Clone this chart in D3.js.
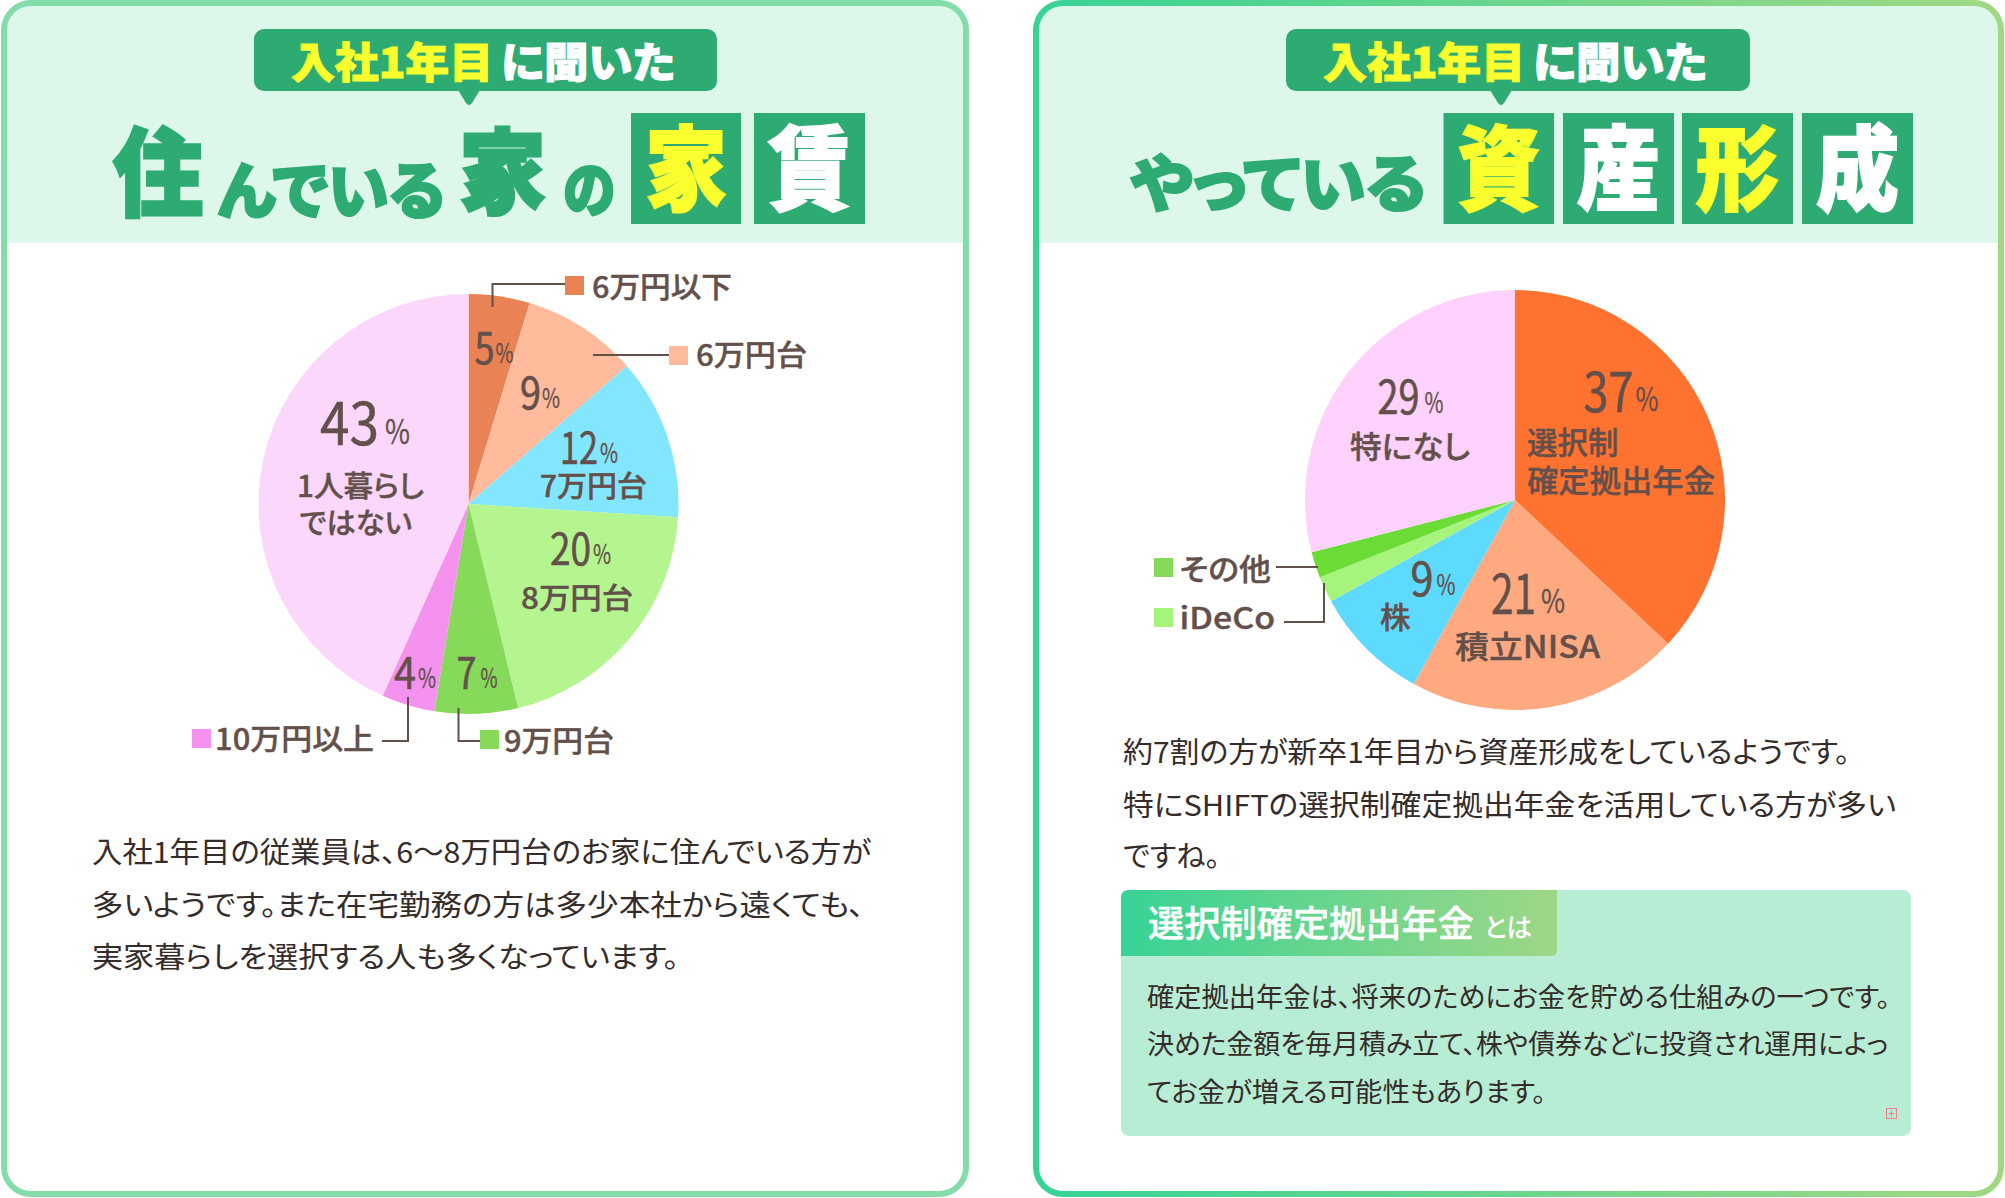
<!DOCTYPE html>
<html lang="ja">
<head>
<meta charset="utf-8">
<script src="https://cdn.jsdelivr.net/npm/d3@7"></script>
<style>
  html, body { margin: 0; background: #fff; }
  svg { display: block; }
  text { font-family: "Noto Sans CJK JP", "Noto Sans", sans-serif; font-feature-settings: "palt"; }
</style>
</head>
<body>
<svg id="chart" width="2005" height="1198"></svg>
<script>
// rent pie: printed percents, and the slice shares
const rentCategories = ['6万円以下', '6万円台', '7万円台', '8万円台', '9万円台', '10万円以上', '1人暮らしではない'];
const rentPercents = [5, 9, 12, 20, 7, 4, 43];
const rentShares = [4.7, 8.9, 12.4, 20.2, 6.4, 4.1, 43.3];
const rentColors = ['#e98355', '#ffbb9c', '#82e6ff', '#b5f590', '#87d95a', '#f592ef', '#fcd7fc'];

// asset pie
const assetCategories = ['選択制確定拠出年金', '積立NISA', '株', 'iDeCo', 'その他', '特になし'];
const assetValues = [37, 21, 9, 2, 2, 29];
const assetColors = ['#ff7230', '#ffa981', '#5fdaff', '#a6f47c', '#6bdc35', '#fed2fc'];

const bodyLeft = [
  '入社1年目の従業員は、6〜8万円台のお家に住んでいる方が',
  '多いようです。また在宅勤務の方は多少本社から遠くても、',
  '実家暮らしを選択する人も多くなっています。'
];
const bodyRight = [
  '約7割の方が新卒1年目から資産形成をしているようです。',
  '特にSHIFTの選択制確定拠出年金を活用している方が多い',
  'ですね。'
];
const noteLines = [
  '確定拠出年金は、将来のためにお金を貯める仕組みの一つです。',
  '決めた金額を毎月積み立て、株や債券などに投資され運用によっ',
  'てお金が増える可能性もあります。'
];

const GREEN = '#2dab73';
const YELLOW = '#fbff2e';
const BROWN = '#63504a';
const INK = '#352c2a';
const HEADER_BG = '#ddf7ea';

const svg = d3.select('#chart');
const defs = svg.append('defs');

const borderGrad = defs.append('linearGradient')
  .attr('id', 'borderGrad').attr('gradientUnits', 'userSpaceOnUse')
  .attr('x1', 1036).attr('x2', 2001).attr('y1', 0).attr('y2', 0);
borderGrad.append('stop').attr('offset', 0).attr('stop-color', '#37d395');
borderGrad.append('stop').attr('offset', 1).attr('stop-color', '#a0d884');

const tabGrad = defs.append('linearGradient')
  .attr('id', 'tabGrad').attr('gradientUnits', 'userSpaceOnUse')
  .attr('x1', 1121).attr('x2', 1557).attr('y1', 0).attr('y2', 0);
tabGrad.append('stop').attr('offset', 0).attr('stop-color', '#37d395');
tabGrad.append('stop').attr('offset', 1).attr('stop-color', '#9ed786');

// squeezes each string into the width
function label(x0, x1, base, size, str, fill = BROWN, weight = 500, outline = 0.4) {
  const t = svg.append('text')
    .attr('x', x0).attr('y', base)
    .attr('font-size', size).attr('font-weight', weight)
    .attr('fill', fill)
    .attr('textLength', x1 - x0).attr('lengthAdjust', 'spacingAndGlyphs')
    .text(str);
  if (outline) t.attr('stroke', fill).attr('stroke-width', outline).attr('stroke-linejoin', 'miter');
  return t;
}

function panel(id, x, w, stroke) {
  const y = 3, h = 1191, r = 27;
  defs.append('clipPath').attr('id', id)
    .append('rect').attr('x', x).attr('y', y).attr('width', w).attr('height', h).attr('rx', r);
  svg.append('rect').attr('x', x).attr('y', y).attr('width', w).attr('height', h).attr('rx', r).attr('fill', '#fff');
  svg.append('rect').attr('x', x).attr('y', y).attr('width', w).attr('height', 240)
    .attr('fill', HEADER_BG).attr('clip-path', `url(#${id})`);
  svg.append('rect').attr('x', x).attr('y', y).attr('width', w).attr('height', h).attr('rx', r)
    .attr('fill', 'none').attr('stroke', stroke).attr('stroke-width', 6);
}

function callout(x0, x1, tip, textX) {
  svg.append('rect').attr('x', x0).attr('y', 29).attr('width', x1 - x0).attr('height', 62).attr('rx', 10).attr('fill', GREEN);
  const p = d3.path();
  p.moveTo(tip - 11, 90);
  p.lineTo(tip - 3, 103);
  p.quadraticCurveTo(tip, 107, tip + 3, 103);
  p.lineTo(tip + 11, 90);
  p.closePath();
  svg.append('path').attr('d', p.toString()).attr('fill', GREEN);
  label(textX, textX + 202, 78, 42, '入社1年目', YELLOW, 900, 1);
  label(textX + 210, textX + 384, 78, 42, 'に聞いた', '#fff', 900, 1);
}

function titleBox(x0, x1, ch, fill) {
  svg.append('rect').attr('x', x0).attr('y', 113).attr('width', x1 - x0).attr('height', 111).attr('fill', GREEN);
  label(x0 + 14, x1 - 14, 203, 92, ch, fill, 900, 2);
}

function pie(cx, cy, values, colors) {
  const arc = d3.arc().innerRadius(0).outerRadius(210);
  const slices = d3.pie().sort(null)(values);
  svg.append('g').attr('transform', `translate(${cx},${cy})`)
    .selectAll('path').data(slices).join('path')
    .attr('d', arc)
    .attr('fill', (d, i) => colors[i]);
}

function leader(points) {
  svg.append('path').attr('d', d3.line()(points))
    .attr('fill', 'none').attr('stroke', BROWN).attr('stroke-width', 2);
}

function swatch(x, y, color) {
  svg.append('rect').attr('x', x).attr('y', y).attr('width', 19).attr('height', 19).attr('fill', color);
}

// number and small percent sign are set separately, as in the picture
function pct(value, x0, x1, px0, px1, base, size, pSize) {
  label(x0, x1, base + 2, size, String(value), BROWN, 400, 0.6);
  label(px0, px1, base + 1, pSize + 2, '%', BROWN, 400, 0.3);
}

// ---- left panel ----
panel('clipL', 4, 962, '#85dcab');
callout(254, 717, 469, 291);
label(113, 203, 208, 96, '住', GREEN, 900, 3);
label(218, 445, 214, 62, 'んでいる', GREEN, 900, 2);
label(459, 546, 206, 92, '家', GREEN, 900, 3);
label(563, 615, 212, 60, 'の', GREEN, 900, 2);
titleBox(631, 741, '家', YELLOW);
titleBox(754, 865, '賃', '#fff');

pie(468.5, 504, rentShares, rentColors);

leader([[492.5, 307], [492.5, 284], [565, 284]]);
leader([[593, 355], [669, 355]]);
leader([[382, 741], [408, 741], [408, 697]]);
leader([[458.5, 708], [458.5, 741], [480, 741]]);

swatch(565, 276, rentColors[0]);
label(592, 732, 298, 29, rentCategories[0]);
swatch(669, 346, rentColors[1]);
label(696, 807, 366, 29, rentCategories[1]);
swatch(192, 729, rentColors[5]);
label(215, 374, 750, 29, rentCategories[5]);
swatch(480, 730, rentColors[4]);
label(504, 614, 752, 29, rentCategories[4]);

pct(rentPercents[0], 474.5, 494.5, 495.5, 513.5, 362, 44, 25);
pct(rentPercents[1], 520, 541, 542, 560, 407, 44, 25);
pct(rentPercents[2], 560, 598, 600, 618, 462, 44, 25);
label(540, 647, 497, 29, rentCategories[2]);
pct(rentPercents[3], 550, 591, 593, 611, 563, 44, 25);
label(521, 633, 609, 29, rentCategories[3]);
pct(rentPercents[4], 456.5, 476.5, 480.5, 497.5, 687, 44, 25);
pct(rentPercents[5], 394, 416, 418, 436, 687, 44, 25);
pct(rentPercents[6], 320, 379, 385, 410, 443, 58, 32);
label(297, 424, 497, 29, '1人暮らし');
label(299.5, 412, 534, 29, 'ではない');

bodyLeft.forEach((line, i) => {
  const ends = [871, 864, 679];
  const bases = [863, 916, 968];
  label(92, ends[i], bases[i], 29, line, INK, 400, 0);
});

// ---- right panel ----
panel('clipR', 1036, 965, 'url(#borderGrad)');
callout(1286, 1750, 1501, 1323);
label(1131, 1426, 207, 62, 'やっている', GREEN, 900, 2);
titleBox(1443.5, 1554, '資', YELLOW);
titleBox(1563, 1674, '産', '#fff');
titleBox(1682, 1793, '形', YELLOW);
titleBox(1802, 1913, '成', '#fff');

pie(1515, 500, assetValues, assetColors);

leader([[1276, 567], [1318, 567]]);
leader([[1284, 622], [1324, 622], [1324, 583]]);

swatch(1154, 558, '#87d95a');
label(1179.5, 1271, 580, 30, assetCategories[4]);
swatch(1154, 608, assetColors[3]);
label(1179.5, 1275, 629, 30, assetCategories[3]);

pct(assetValues[0], 1583.5, 1633.5, 1635.5, 1658.5, 410, 54, 30);
label(1527, 1618.5, 454, 31, '選択制');
label(1527, 1715, 492, 31, '確定拠出年金');
pct(assetValues[5], 1377.5, 1419.5, 1424.5, 1443.5, 412, 46, 26);
label(1350, 1470, 458, 31, assetCategories[5]);
pct(assetValues[2], 1410.5, 1433.5, 1436.5, 1455.5, 594, 46, 26);
label(1380, 1410.5, 628, 30, assetCategories[2]);
pct(assetValues[1], 1491, 1536, 1541, 1565, 612, 54, 30);
label(1455, 1600, 658, 31, assetCategories[1]);

bodyRight.forEach((line, i) => {
  const ends = [1850, 1896, 1220];
  const bases = [763, 816, 867];
  label(1123, ends[i], bases[i], 29, line, INK, 400, 0);
});

// note box
svg.append('rect').attr('x', 1121).attr('y', 890).attr('width', 790).attr('height', 246).attr('rx', 8).attr('fill', '#b8edd5');
const tab = d3.path();
tab.moveTo(1129, 890);
tab.lineTo(1557, 890);
tab.lineTo(1557, 950);
tab.quadraticCurveTo(1557, 956, 1551, 956);
tab.lineTo(1121, 956);
tab.lineTo(1121, 898);
tab.quadraticCurveTo(1121, 890, 1129, 890);
tab.closePath();
svg.append('path').attr('d', tab.toString()).attr('fill', 'url(#tabGrad)');
label(1148, 1474, 937, 36, '選択制確定拠出年金', '#fff', 500);
label(1484, 1532, 937, 26, 'とは', '#fff', 500, 0);

noteLines.forEach((line, i) => {
  const ends = [1890, 1888, 1546];
  const bases = [1007, 1054, 1102];
  label(1147, ends[i], bases[i], 27, line, INK, 400, 0);
});

// small overflow marker in the corner of the note
svg.append('rect').attr('x', 1886.5).attr('y', 1108.5).attr('width', 10).attr('height', 10)
  .attr('fill', 'none').attr('stroke', '#f0808a').attr('stroke-width', 1);
svg.append('path').attr('d', 'M1891.5 1110.5V1116.5M1888.5 1113.5H1894.5')
  .attr('stroke', '#f0808a').attr('stroke-width', 1);
</script>
</body>
</html>
